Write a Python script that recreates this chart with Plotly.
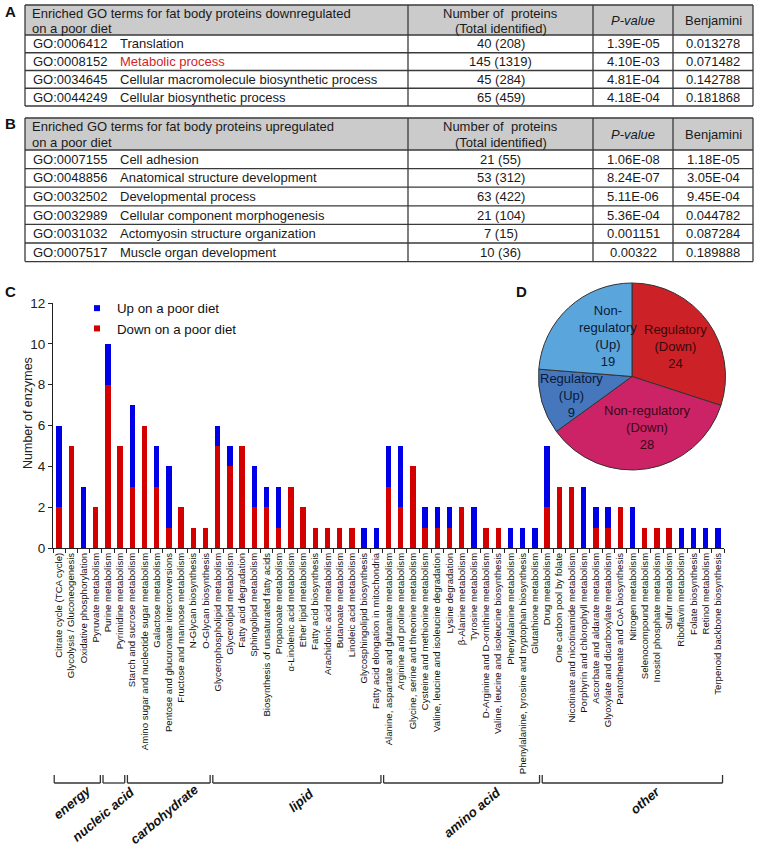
import plotly.graph_objects as go

W, H = 757, 847
FONT = "Arial, 'Liberation Sans', sans-serif"

# ---------------- Table A data ----------------
tableA_title = ["Enriched GO terms for fat body proteins downregulated", "on a poor diet"]
tableA_go = ["GO:0006412", "GO:0008152", "GO:0034645", "GO:0044249"]
tableA_term = ["Translation", "Metabolic process",
               "Cellular macromolecule biosynthetic process", "Cellular biosynthetic process"]
tableA_term_color = ["#1a1a1a", "#d0262b", "#1a1a1a", "#1a1a1a"]
tableA_count = ["40 (208)", "145 (1319)", "45 (284)", "65 (459)"]
tableA_p = ["1.39E-05", "4.10E-03", "4.81E-04", "4.18E-04"]
tableA_benj = ["0.013278", "0.071482", "0.142788", "0.181868"]

# ---------------- Table B data ----------------
tableB_title = ["Enriched GO terms for fat body proteins upregulated", "on a poor diet"]
tableB_go = ["GO:0007155", "GO:0048856", "GO:0032502", "GO:0032989", "GO:0031032", "GO:0007517"]
tableB_term = ["Cell adhesion", "Anatomical structure development", "Developmental process",
               "Cellular component morphogenesis", "Actomyosin structure organization",
               "Muscle organ development"]
tableB_term_color = ["#1a1a1a"] * 6
tableB_count = ["21 (55)", "53 (312)", "63 (422)", "21 (104)", "7 (15)", "10 (36)"]
tableB_p = ["1.06E-08", "8.24E-07", "5.11E-06", "5.36E-04", "0.001151", "0.00322"]
tableB_benj = ["1.18E-05", "3.05E-04", "9.45E-04", "0.044782", "0.087284", "0.189888"]

header_count = ["Number of  proteins", "(Total identified)"]
header_p = "<i>P-value</i>"
header_b = "Benjamini"

# ---------------- Bar chart data ----------------
categories = [
    "Citrate cycle (TCA cycle)", "Glycolysis / Gluconeogenesis", "Oxidative phosphorylation",
    "Pyruvate metabolism",
    "Purine metabolism", "Pyrimidine metabolism",
    "Starch and sucrose metabolism", "Amino sugar and nucleotide sugar metabolism",
    "Galactose metabolism", "Pentose and glucuronate interconversions",
    "Fructose and mannose metabolism", "N-Glycan biosynthesis", "O-Glycan biosynthesis",
    "Glycerophospholipid metabolism", "Glycerolipid metabolism", "Fatty acid degradation",
    "Sphingolipid metabolism", "Biosynthesis of unsaturated fatty acids", "Propanoate metabolism",
    "α-Linolenic acid metabolism", "Ether lipid metabolism", "Fatty acid biosynthesis",
    "Arachidonic acid metabolism", "Butanoate metabolism", "Linoleic acid metabolism",
    "Glycosphingolipid biosynthesis", "Fatty acid elongation in mitochondria",
    "Alanine, aspartate and glutamate metabolism", "Arginine and proline metabolism",
    "Glycine, serine and threonine metabolism", "Cysteine and methionine metabolism",
    "Valine, leucine and isoleucine degradation", "Lysine degradation", "β-Alanine metabolism",
    "Tyrosine metabolism", "D-Arginine and D-ornithine metabolism",
    "Valine, leucine and isoleucine biosynthesis", "Phenylalanine metabolism",
    "Phenylalanine, tyrosine and tryptophan biosynthesis", "Glutathione metabolism",
    "Drug metabolism", "One carbon pool by folate", "Nicotinate and nicotinamide metabolism",
    "Porphyrin and chlorophyll metabolism", "Ascorbate and aldarate metabolism",
    "Glyoxylate and dicarboxylate metabolism", "Pantothenate and CoA biosynthesis",
    "Nitrogen metabolism", "Selenocompound metabolism", "Inositol phosphate metabolism",
    "Sulfur metabolism", "Riboflavin metabolism", "Folate biosynthesis", "Retinol metabolism",
    "Terpenoid backbone biosynthesis",
]
down_values = [2, 5, 0, 2,
               8, 5,
               3, 6, 3, 1, 2, 1, 1,
               5, 4, 5, 2, 2, 1, 3, 2, 1, 1, 1, 1, 0, 0,
               3, 2, 4, 1, 1, 1, 2, 0, 1, 1, 0, 0, 0,
               2, 3, 3, 0, 1, 1, 2, 0, 1, 1, 1, 0, 0, 0, 0]
up_values = [4, 0, 3, 0,
             2, 0,
             4, 0, 2, 3, 0, 0, 0,
             1, 1, 0, 2, 1, 2, 0, 0, 0, 0, 0, 0, 1, 1,
             2, 3, 0, 1, 1, 1, 0, 2, 0, 0, 1, 1, 1,
             3, 0, 0, 3, 1, 1, 0, 2, 0, 0, 0, 1, 1, 1, 1]
group_names = ["energy", "nucleic acid", "carbohydrate", "lipid", "amino acid", "other"]
group_sizes = [4, 2, 7, 14, 13, 15]
series_names = ["Up on a poor diet", "Down on a poor diet"]

# ---------------- Pie data ----------------
pie_labels = ["Regulatory (Down)", "Non-regulatory (Down)", "Regulatory (Up)", "Non-regulatory (Up)"]
pie_values = [24, 28, 9, 19]
pie_text = ["Regulatory<br>(Down)<br>24", "Non-regulatory<br>(Down)<br>28",
            "Regulatory<br>(Up)<br>9", "Non-<br>regulatory<br>(Up)<br>19"]

# ---------------- styles ----------------
RED = "#d40000"
BLUE = "#0000e8"
PIE_COLORS = ["#cd2128", "#cc2366", "#4677bc", "#5ba5dd"]
PIE_TEXT_COLORS = ["#3a0808", "#3a0818", "#0a1a35", "#0a1a35"]
PIE_TEXT_POS = [(675, 346), (647, 427), (571, 396), (608, 336)]
GROUP_LABEL_POS = [(72, 802), (103, 814), (164, 814), (301, 800), (472, 812), (645, 800)]


def fx(p):
    return p / W


def fy(p):
    return 1 - p / H


shapes, annotations = [], []


def hline(x0, y0, x1, y1, color="#3a3a3a", width=1.3):
    shapes.append(dict(type="line", xref="paper", yref="paper", x0=fx(x0), y0=fy(y0),
                       x1=fx(x1), y1=fy(y1), line=dict(color=color, width=width)))


def txt(x, y, s, size=13, color="#1a1a1a", xanchor="left", bold=False, **kw):
    if bold:
        s = "<b>" + s + "</b>"
    annotations.append(dict(xref="paper", yref="paper", x=fx(x), y=fy(y), text=s,
                            showarrow=False, xanchor=xanchor, yanchor="middle",
                            font=dict(family=FONT, size=size, color=color), **kw))


COLS = [25, 408, 593, 673, 753]
GO_X, TERM_X = 31, 118
COUNT_X = (COLS[1] + COLS[2]) / 2
P_X = (COLS[2] + COLS[3]) / 2
B_X = (COLS[3] + COLS[4]) / 2


def draw_table(top, header_h, row_h, title, go_ids, terms, term_colors, counts, pvals, benjs):
    n = len(go_ids)
    hb = top + header_h
    bottom = hb + n * row_h
    shapes.append(dict(type="rect", xref="paper", yref="paper", x0=fx(COLS[0]), x1=fx(COLS[-1]),
                       y0=fy(hb), y1=fy(top), fillcolor="#cbcbcb", line=dict(width=0),
                       layer="below"))
    for i in range(n + 2):
        y = top if i == 0 else hb + (i - 1) * row_h
        hline(COLS[0], y, COLS[-1], y)
    for x in COLS:
        hline(x, top, x, bottom)
    l1 = top + header_h * 0.28
    l2 = top + header_h * 0.77
    txt(30, l1, title[0])
    txt(30, l2, title[1])
    txt(COUNT_X, l1, header_count[0], xanchor="center")
    txt(COUNT_X, l2, header_count[1], xanchor="center")
    txt(P_X, top + header_h * 0.5, header_p, xanchor="center")
    txt(B_X, top + header_h * 0.5, header_b, xanchor="center")
    for i in range(n):
        yc = hb + (i + 0.5) * row_h
        txt(GO_X, yc, go_ids[i])
        txt(TERM_X, yc, terms[i], color=term_colors[i])
        txt(COUNT_X, yc, counts[i], xanchor="center")
        txt(P_X, yc, pvals[i], xanchor="center")
        txt(B_X, yc, benjs[i], xanchor="center")


draw_table(5, 30, 17.75, tableA_title, tableA_go, tableA_term, tableA_term_color,
           tableA_count, tableA_p, tableA_benj)
draw_table(118, 32, 18.6, tableB_title, tableB_go, tableB_term, tableB_term_color,
           tableB_count, tableB_p, tableB_benj)

# panel letters
for letter, (x, y) in zip(["A", "B", "C", "D"], [(10, 12), (10, 124), (10, 291), (521, 291)]):
    txt(x, y, letter, size=15, color="#111", xanchor="center", bold=True)

# y-axis title
annotations.append(dict(xref="paper", yref="paper", x=fx(28), y=fy(413), text="Number of enzymes",
                        showarrow=False, textangle=-90, xanchor="center", yanchor="middle",
                        font=dict(family=FONT, size=12.5, color="#222")))

# group brackets and labels
start = 0
for name, size, (lx, ly) in zip(group_names, group_sizes, GROUP_LABEL_POS):
    a = start - 0.5 + 0.1
    b = start + size - 0.5 - 0.12
    for (x0, y0, x1, y1) in [(a, 775, a, 783), (a, 783, b, 783), (b, 775, b, 783)]:
        shapes.append(dict(type="line", xref="x", yref="paper", x0=x0, x1=x1, y0=fy(y0), y1=fy(y1),
                           line=dict(color="#333", width=1.3)))
    annotations.append(dict(xref="paper", yref="paper", x=fx(lx), y=fy(ly),
                            text="<b><i>" + name + "</i></b>", showarrow=False, textangle=-40,
                            xanchor="center", yanchor="middle",
                            font=dict(family=FONT, size=13.2, color="#111")))
    start += size

# pie labels
for s, c, (px, py) in zip(pie_text, PIE_TEXT_COLORS, PIE_TEXT_POS):
    annotations.append(dict(xref="paper", yref="paper", x=fx(px), y=fy(py), text=s,
                            showarrow=False, xanchor="center", yanchor="middle", align="center",
                            font=dict(family=FONT, size=13, color=c)))

fig = go.Figure()
fig.add_trace(go.Bar(x=categories, y=down_values, name=series_names[1], marker_color=RED,
                     marker_line_width=0, showlegend=False))
fig.add_trace(go.Bar(x=categories, y=up_values, name=series_names[0], marker_color=BLUE,
                     marker_line_width=0, showlegend=False))
# legend entries
fig.add_trace(go.Scatter(x=[None], y=[None], mode="markers", name=series_names[0],
                         marker=dict(symbol="square", size=6, color=BLUE)))
fig.add_trace(go.Scatter(x=[None], y=[None], mode="markers", name=series_names[1],
                         marker=dict(symbol="square", size=6, color=RED)))

fig.add_trace(go.Pie(labels=pie_labels, values=pie_values, sort=False, direction="clockwise",
                     rotation=0, textinfo="none", showlegend=False,
                     marker=dict(colors=PIE_COLORS, line=dict(color="#333", width=1)),
                     domain=dict(x=[fx(538), fx(726)], y=[fy(470), fy(283)])))

fig.update_layout(
    template="none",
    width=W, height=H, autosize=False,
    margin=dict(l=0, r=0, t=0, b=0),
    paper_bgcolor="white", plot_bgcolor="white",
    barmode="stack", bargap=0.565,
    font=dict(family=FONT, color="#111"),
    showlegend=True,
    legend=dict(x=fx(77), y=fy(293), xanchor="left", yanchor="top", bgcolor="rgba(0,0,0,0)",
                font=dict(family=FONT, size=13.3, color="#111"), traceorder="normal",
                itemwidth=30, tracegroupgap=0),
    xaxis=dict(domain=[fx(53), fx(724)], type="category", range=[-0.5, len(categories) - 0.5],
               showline=True, linecolor="#222", linewidth=1, ticks="outside", tickson="boundaries",
               ticklen=4, tickcolor="#222", tickangle=-90, tickmode="linear", tick0=0, dtick=1,
               tickfont=dict(family=FONT, size=9.6, color="#111"), showgrid=False, zeroline=False,
               automargin=False),
    yaxis=dict(domain=[fy(548), fy(303)], range=[0, 12], dtick=2, tick0=0, showline=True,
               linecolor="#222", linewidth=1, ticks="outside", ticklen=4, tickcolor="#222",
               tickfont=dict(family=FONT, size=13.5, color="#222"), showgrid=False,
               zeroline=False, automargin=False),
    shapes=shapes,
    annotations=annotations,
)

# remove the default 8px page margin so the 757x847 figure fills the window exactly
fig.write_html("out.html", config={"displayModeBar": False},
               post_script="document.body.style.margin='0';")
